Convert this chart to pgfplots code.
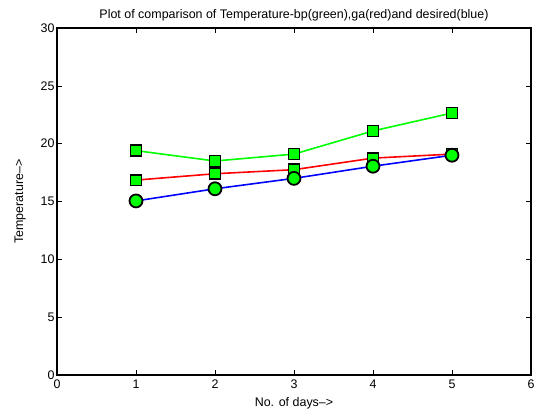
\documentclass[border=0pt]{standalone}
\usepackage{pgfplots}
\pgfplotsset{compat=1.18}
\usepackage{fontspec}
\setmainfont{Liberation Sans}
\definecolor{mgreen}{RGB}{0,255,0}
\definecolor{mred}{RGB}{255,0,0}
\definecolor{mblue}{RGB}{0,0,255}
\begin{document}
\begin{tikzpicture}
\useasboundingbox (-57bp,-35bp) rectangle (483bp,375bp);
\begin{axis}[
  at={(0,0)}, anchor=south west,
  scale only axis, width=474bp, height=347bp,
  xmin=0, xmax=6, ymin=0, ymax=30,
  xtick={0,1,2,3,4,5,6}, ytick={0,5,10,15,20,25,30},
  tick align=inside, major tick length=5bp,
  axis line style={line width=1.2pt},
  every tick/.style={black, line width=0.6pt},
  tick label style={font=\fontsize{12.5}{15}\selectfont},
  /pgf/number format/assume math mode=true,
  xticklabel style={yshift=-1bp},
  yticklabel style={xshift=1bp},
  title={Plot of comparison of Temperature-bp(green),ga(red)and desired(blue)},
  title style={font=\fontsize{12.5}{15}\selectfont, yshift=-3bp},
  xlabel={No. of days-->},
  ylabel={Temperature-->},
  label style={font=\fontsize{12.5}{15}\selectfont},
  xlabel style={yshift=-2bp},
  ylabel style={yshift=8bp},
]
\addplot[mgreen, line width=1.6pt, mark=square*, mark size=5.5pt,
  mark options={fill=mgreen, draw=black, line width=1.8pt}]
  coordinates {(1,19.4) (2,18.5) (3,19.1) (4,21.1) (5,22.65)};
\addplot[mred, line width=1.6pt, mark=square*, mark size=5.5pt,
  mark options={fill=mgreen, draw=black, line width=1.8pt}]
  coordinates {(1,16.85) (2,17.4) (3,17.75) (4,18.75) (5,19.1)};
\addplot[mblue, line width=1.6pt, mark=*, mark size=6.5pt,
  mark options={fill=mgreen, draw=black, line width=1.8pt}]
  coordinates {(1,15.05) (2,16.1) (3,17.0) (4,18.05) (5,19.0)};
\end{axis}
\end{tikzpicture}
\end{document}
